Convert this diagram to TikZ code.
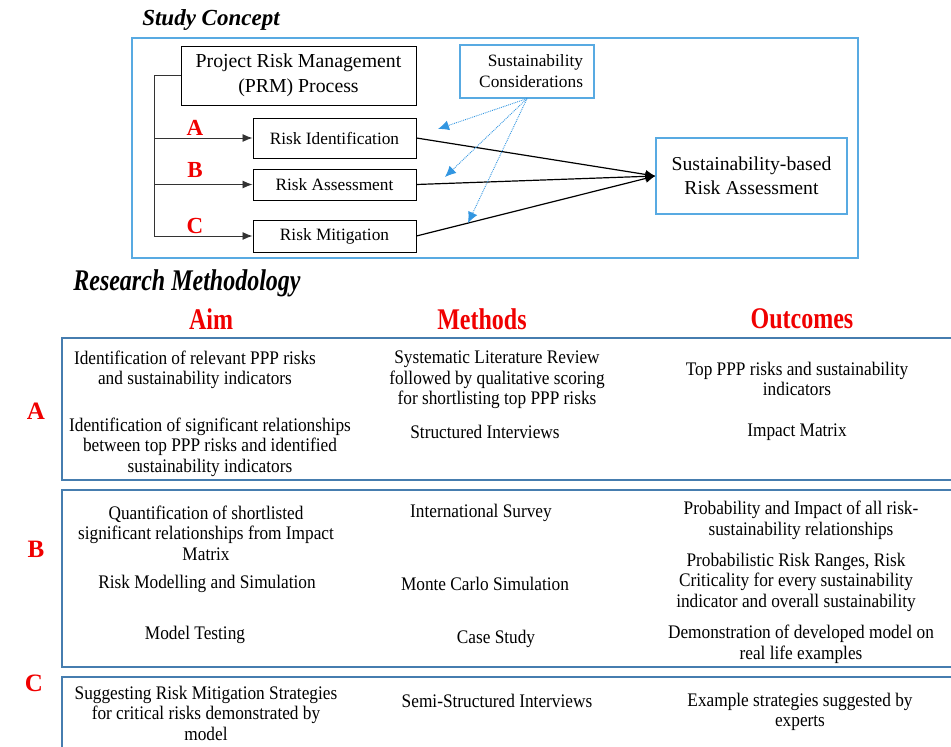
\documentclass[tikz,border=0pt]{standalone}
\usepackage{fontspec}
\setmainfont{Liberation Serif}
\newfontfamily\narrowfont[FakeStretch=0.9]{Liberation Serif}
\newfontfamily\headfont[FakeStretch=0.8]{Liberation Serif}
\usetikzlibrary{arrows.meta,positioning}
\definecolor{skyline}{RGB}{88,170,226}
\definecolor{tableline}{RGB}{70,125,175}
\definecolor{dotblue}{RGB}{50,150,225}
\definecolor{letterred}{RGB}{240,0,0}

\begin{document}
\begin{tikzpicture}[x=1pt, y=-1pt,
    box/.style={draw, line width=1pt, minimum width=163pt, inner sep=0pt, font=\fontsize{17.3}{21}\selectfont},
    bluebox/.style={draw=skyline, line width=1.2pt, inner sep=0pt, align=center},
    letter/.style={text=letterred, font=\fontsize{23}{23}\selectfont\bfseries},
    bigletter/.style={text=letterred, font=\fontsize{25}{25}\selectfont\bfseries},
    title/.style={font=\headfont\fontsize{30}{30}\selectfont\bfseries\itshape},
    head/.style={text=letterred, font=\headfont\fontsize{30}{30}\selectfont\bfseries},
    cell/.style={align=center, inner sep=0pt, font=\narrowfont\fontsize{19.2}{20.5}\selectfont},
    row/.style={draw=tableline, line width=1.5pt},
    feed/.style={-{Latex[length=11pt,width=10pt]}, densely dotted, dotblue, line width=0.9pt},
    link/.style={-{Latex[length=10pt,width=9pt]}, line width=1.2pt},
    branch/.style={-{Latex[length=10pt,width=8pt]}, black!80, line width=0.9pt}]
  \useasboundingbox (0,0) rectangle (951,747);
  \clip (0,0) rectangle (951,747);

  \node[font=\fontsize{23}{23}\selectfont\bfseries\itshape] (sctitle) at (211,20) {Study Concept};
  \draw[draw=skyline, line width=1.2pt] (132,38) rectangle (858,258);

  \node[box, minimum width=235pt, minimum height=59pt, align=center, font=\fontsize{19.8}{25}\selectfont] (prm) at (298.5,75.5) {Project Risk Management\\(PRM) Process};
  \node[box, minimum height=40pt] (ri) at (334.5,138) {Risk Identification};
  \node[box, minimum height=31pt] (ra) at (334.5,184.5) {Risk Assessment};
  \node[box, minimum height=32pt] (rm) at (334.5,236) {Risk Mitigation};
  \node[bluebox, minimum width=134pt, minimum height=53pt, text width=112pt, align=right, font=\fontsize{17.3}{21}\selectfont] (sc) at (527,71.5) {Sustainability\\Considerations};
  \node[bluebox, minimum width=191pt, minimum height=76pt, font=\fontsize{19.7}{24}\selectfont] (sbra) at (751.5,176) {Sustainability-based\\Risk Assessment};

  \node[letter] (la) at (195,128) {A};
  \node[letter] (lb) at (195,170) {B};
  \node[letter] (lc) at (195,226) {C};

  \draw[branch] (prm.west) -- ++(-26,0) |- (rm.west);
  \draw[branch] (prm.west) ++(-26,0) |- (ri.west);
  \draw[branch] (prm.west) ++(-26,0) |- (ra.west);

  \draw[link] (ri.east) -- (sbra.west);
  \draw[link] (ra.east) -- (sbra.west);
  \draw[link] (rm.east) -- (sbra.west);

  \coordinate (fi) at (438,129);
  \coordinate (fa) at (445,177);
  \coordinate (fm) at (468,223);
  \draw[feed] (sc.south) -- (fi);
  \draw[feed] (sc.south) -- (fa);
  \draw[feed] (sc.south) -- (fm);

  \node[title] (rmtitle) at (187,283) {Research Methodology};
  \node[head] (haim) at (211,319) {Aim};
  \node[head] (hmet) at (482,319) {Methods};
  \node[head] (hout) at (802,319) {Outcomes};

  \draw[row] (62,338) rectangle (980,480);
  \draw[row] (62,490) rectangle (980,667);
  \draw[row] (62,677) rectangle (980,770);

  \node[bigletter] (ta) at (36,411) {A};
  \node[bigletter] (tb) at (36,549) {B};
  \node[bigletter] (tc) at (34,683) {C};

  \node[cell] (aaim1) at (195,370) {Identification of relevant PPP risks\\and sustainability indicators};
  \node[cell] (aaim2) at (210,447) {Identification of significant relationships\\between top PPP risks and identified\\sustainability indicators};
  \node[cell] (amet1) at (497,380) {Systematic Literature Review\\followed by qualitative scoring\\for shortlisting top PPP risks};
  \node[cell] (amet2) at (485,432) {Structured Interviews};
  \node[cell] (aout1) at (797,379) {Top PPP risks and sustainability\\indicators};
  \node[cell] (aout2) at (797,432) {Impact Matrix};

  \node[cell] (baim1) at (206,533) {Quantification of shortlisted\\significant relationships from Impact\\Matrix};
  \node[cell] (baim2) at (207,584) {Risk Modelling and Simulation};
  \node[cell] (baim3) at (195,635) {Model Testing};
  \node[cell] (bmet1) at (481,513) {International Survey};
  \node[cell] (bmet2) at (485,584) {Monte Carlo Simulation};
  \node[cell] (bmet3) at (496,639) {Case Study};
  \node[cell] (bout1) at (801,520.5) {Probability and Impact of all risk-\\sustainability relationships};
  \node[cell] (bout2) at (796,582) {Probabilistic Risk Ranges, Risk\\Criticality for every sustainability\\indicator and overall sustainability};
  \node[cell] (bout3) at (801,644.5) {Demonstration of developed model on\\real life examples};

  \node[cell] (caim) at (206,713) {Suggesting Risk Mitigation Strategies\\for critical risks demonstrated by\\model};
  \node[cell] (cmet) at (497,701) {Semi-Structured Interviews};
  \node[cell] (cout) at (800,712) {Example strategies suggested by\\experts};
\end{tikzpicture}
\end{document}
